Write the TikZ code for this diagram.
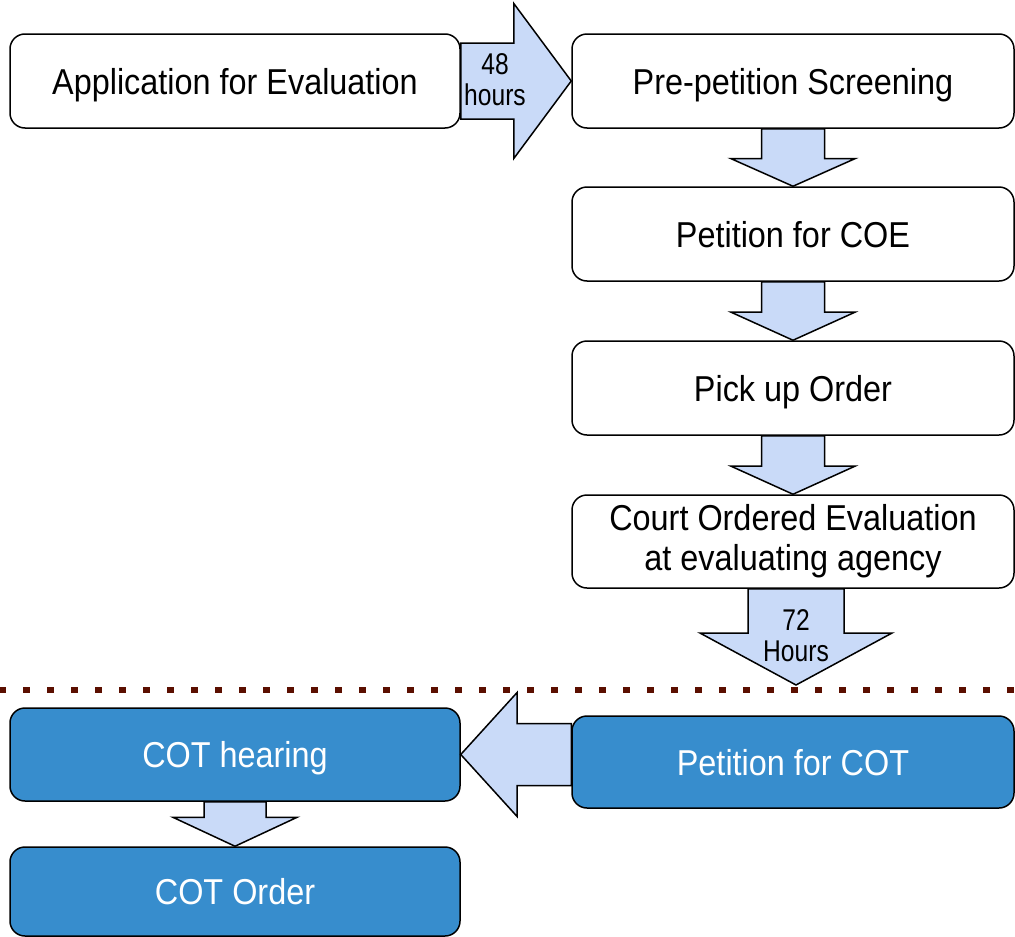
\documentclass[tikz,border=0pt]{standalone}
\usepackage{fontspec}
\setmainfont{Liberation Sans}
\newfontfamily\boxfont[FakeStretch=0.9]{Liberation Sans}
\newfontfamily\lblfont[FakeStretch=0.82]{Liberation Sans}
\usetikzlibrary{calc}
\definecolor{arrowfill}{HTML}{C9DAF8}
\definecolor{bluefill}{HTML}{378DCD}
\definecolor{sepcol}{HTML}{5B0F00}
\tikzset{
  box/.style={draw=black, line width=1.5pt, rounded corners=15pt, fill=white, inner sep=0pt,
    font=\boxfont\fontsize{36}{40}\selectfont, align=center},
  oneline/.style={text height=26pt, text depth=0pt},
  bluebox/.style={box, fill=bluefill, text=white},
  blk/.style={draw=black, line width=1.5pt, fill=arrowfill, line join=miter},
  lbl/.style={font=\lblfont\fontsize{30}{31}\selectfont, align=center, inner sep=0pt},
  sepline/.style={draw=sepcol, line width=6pt, dash pattern=on 7pt off 17pt}
}
% vertical block arrow: #1 start, #2 tip, #3 shaft half width, #4 head half width, #5 shaft fraction
\newcommand\vblk[5]{%
  \filldraw[blk] ($(#1)+(-#3,0)$) -- ($(#1)!#5!(#2)+(-#3,0)$) -- ($(#1)!#5!(#2)+(-#4,0)$)
    -- (#2) -- ($(#1)!#5!(#2)+(#4,0)$) -- ($(#1)!#5!(#2)+(#3,0)$) -- ($(#1)+(#3,0)$) -- cycle;}
% horizontal block arrow
\newcommand\hblk[5]{%
  \filldraw[blk] ($(#1)+(0,-#3)$) -- ($(#1)!#5!(#2)+(0,-#3)$) -- ($(#1)!#5!(#2)+(0,-#4)$)
    -- (#2) -- ($(#1)!#5!(#2)+(0,#4)$) -- ($(#1)!#5!(#2)+(0,#3)$) -- ($(#1)+(0,#3)$) -- cycle;}
\begin{document}
\begin{tikzpicture}[x=1pt,y=-1pt]
\useasboundingbox (0,0) rectangle (1015,937);

% boxes
\node[box,oneline,minimum width=450pt,minimum height=94pt] (app) at (235,81) {Application for Evaluation};
\node[box,oneline,minimum width=442pt,minimum height=94pt] (pre) at (793,81) {Pre-petition Screening};
\node[box,oneline,minimum width=442pt,minimum height=94pt] (coe) at (793,234) {Petition for COE};
\node[box,oneline,minimum width=442pt,minimum height=94pt] (pick) at (793,388) {Pick up Order};
\node[box,minimum width=442pt,minimum height=93pt] (court) at (793,541.5) {Court Ordered Evaluation\\at evaluating agency};
\node[bluebox,oneline,minimum width=442pt,minimum height=92pt] (petcot) at (793,762) {Petition for COT};
\node[bluebox,oneline,minimum width=450pt,minimum height=93pt] (hear) at (235,754.5) {COT hearing};
\node[bluebox,oneline,minimum width=450pt,minimum height=89pt] (order) at (235,891.5) {COT Order};

% arrows
\hblk{app.east}{pre.west}{38}{77.5}{0.48}
\vblk{pre.south}{coe.north}{31.5}{62}{0.52}
\vblk{coe.south}{pick.north}{31.5}{62}{0.52}
\vblk{pick.south}{court.north}{31.5}{62}{0.52}
\coordinate (c72) at ($(court.south)+(3,0)$);
\coordinate (t72) at (796,685);
\vblk{c72}{t72}{48}{96}{0.46}
\coordinate (pstart) at (petcot.west |- hear.east);
\hblk{pstart}{hear.east}{31}{62}{0.49}
\vblk{hear.south}{order.north}{31}{62}{0.35}

% arrow labels
\node[lbl] (l48) at (495,79.5) {48\\hours};
\node[lbl] (l72) at (796,636) {72\\Hours};

% separator
\coordinate (s1) at (-1,690);
\coordinate (s2) at (1016,690);
\draw[sepline] (s1) -- (s2);
\end{tikzpicture}
\end{document}
